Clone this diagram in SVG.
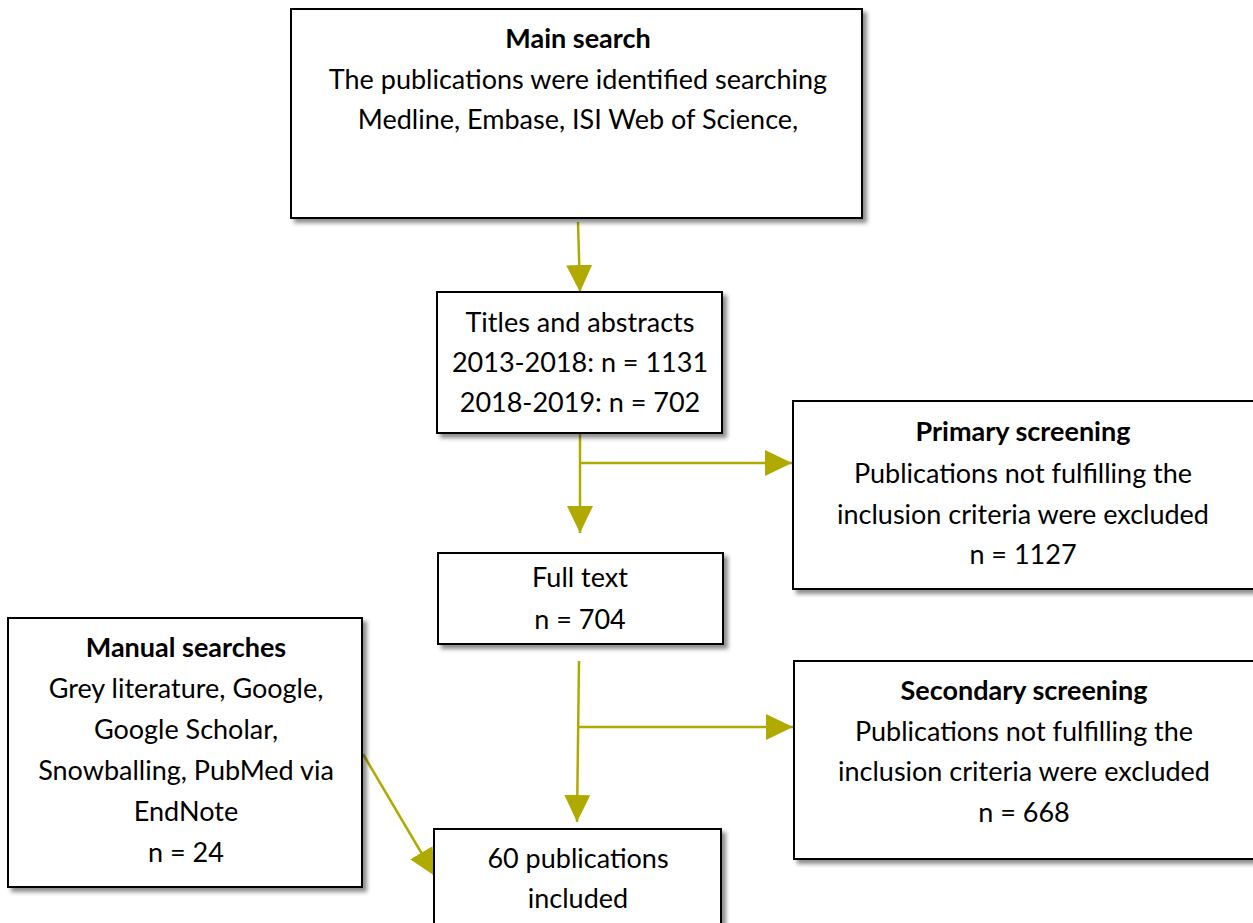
<svg xmlns="http://www.w3.org/2000/svg" width="1253" height="923" viewBox="0 0 1253 923">
  <style>
    .box { fill: #ffffff; stroke: #000000; stroke-width: 2; filter: url(#shadow); }
    .t { font-family: Lato, "Open Sans", "Liberation Sans", sans-serif; font-size: 27px; fill: #000000; text-anchor: middle; }
    .b { font-weight: bold; }
    .link { fill: none; stroke: #b0aa00; stroke-width: 2.5; }
  </style>
  <defs>
    <filter id="shadow" x="-10%" y="-10%" width="125%" height="130%">
      <feDropShadow dx="4" dy="4" stdDeviation="2" flood-color="#000000" flood-opacity="0.45"/>
    </filter>
    <marker id="head" viewBox="0 0 27 26" refX="27" refY="13" markerWidth="27" markerHeight="26" markerUnits="userSpaceOnUse" orient="auto">
      <path d="M0,0 L27,13 L0,26 z" fill="#b0aa00"/>
    </marker>
  </defs>
  <rect width="1253" height="923" fill="#ffffff"/>

  <!-- connectors -->
  <g id="connectors">
    <line class="link" x1="578" y1="222" x2="580" y2="292" marker-end="url(#head)"/>
    <line class="link" x1="580" y1="434" x2="580" y2="533" marker-end="url(#head)"/>
    <line class="link" x1="580" y1="463" x2="792" y2="463" marker-end="url(#head)"/>
    <line class="link" x1="579" y1="661" x2="577" y2="822" marker-end="url(#head)"/>
    <line class="link" x1="579" y1="727" x2="793" y2="727" marker-end="url(#head)"/>
    <line class="link" x1="363" y1="754" x2="435" y2="876" marker-end="url(#head)"/>
  </g>

  <g id="main-search">
    <rect class="box" x="291" y="9" width="571" height="209"/>
    <text class="t b" x="578" y="48">Main search</text>
    <text class="t" x="578" y="89">The publications were identified searching</text>
    <text class="t" x="578" y="129">Medline, Embase, ISI Web of Science,</text>
  </g>

  <g id="titles-abstracts">
    <rect class="box" x="437" y="292" width="285" height="141"/>
    <text class="t" x="580" y="332">Titles and abstracts</text>
    <text class="t" x="580" y="372">2013-2018: n = 1131</text>
    <text class="t" x="580" y="412">2018-2019: n = 702</text>
  </g>

  <g id="primary-screening">
    <rect class="box" x="793" y="401" width="462" height="188"/>
    <text class="t b" x="1023" y="441">Primary screening</text>
    <text class="t" x="1023" y="483">Publications not fulfilling the</text>
    <text class="t" x="1023" y="524">inclusion criteria were excluded</text>
    <text class="t" x="1023" y="564">n = 1127</text>
  </g>

  <g id="full-text">
    <rect class="box" x="438" y="553" width="285" height="91"/>
    <text class="t" x="580" y="587">Full text</text>
    <text class="t" x="580" y="629">n = 704</text>
  </g>

  <g id="secondary-screening">
    <rect class="box" x="794" y="661" width="461" height="198"/>
    <text class="t b" x="1024" y="700">Secondary screening</text>
    <text class="t" x="1024" y="741">Publications not fulfilling the</text>
    <text class="t" x="1024" y="781">inclusion criteria were excluded</text>
    <text class="t" x="1024" y="822">n = 668</text>
  </g>

  <g id="manual-searches">
    <rect class="box" x="8" y="618" width="354" height="269"/>
    <text class="t b" x="186" y="657">Manual searches</text>
    <text class="t" x="186" y="698">Grey literature, Google,</text>
    <text class="t" x="186" y="739">Google Scholar,</text>
    <text class="t" x="186" y="780">Snowballing, PubMed via</text>
    <text class="t" x="186" y="821">EndNote</text>
    <text class="t" x="186" y="862">n = 24</text>
  </g>

  <g id="included">
    <rect class="box" x="434" y="829" width="287" height="110"/>
    <text class="t" x="578" y="868">60 publications</text>
    <text class="t" x="578" y="908">included</text>
  </g>
</svg>
